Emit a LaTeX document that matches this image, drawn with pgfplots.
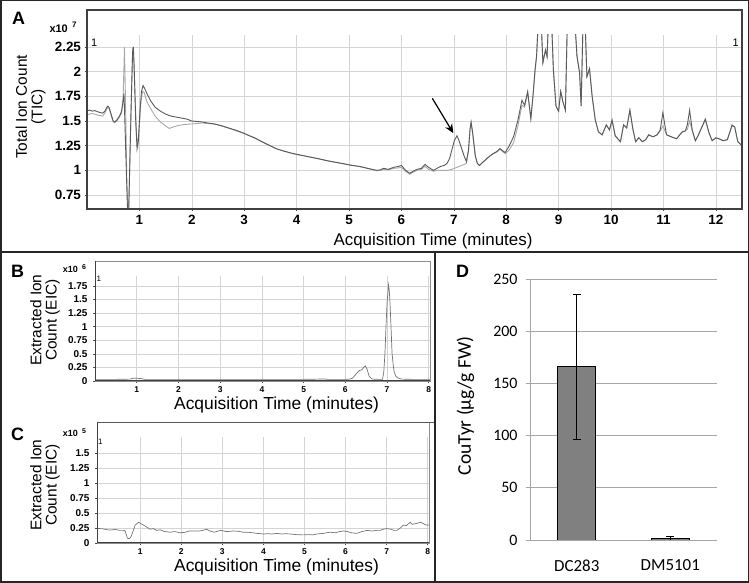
\documentclass[border=0pt]{standalone}
\usepackage{fontspec}
\setmainfont{Liberation Sans}
\newfontfamily\carlito{Carlito}
\usepackage{pgfplots}
\pgfplotsset{compat=1.18}
\usetikzlibrary{arrows.meta}

\definecolor{gridc}{HTML}{D4D4D4}
\definecolor{traceD}{HTML}{5A5A5A}
\definecolor{traceL}{HTML}{A8A8A8}
\definecolor{barc}{HTML}{808080}
\definecolor{xlgrid}{HTML}{A6A6A6}

\newcommand\fs[1]{\fontsize{#1}{#1}\selectfont}

\pgfplotsset{
  chrom/.style={anchor=south west, scale only axis,
    axis line style={draw=none},
    grid=major, major grid style={gridc, line width=0.6bp},
    tick align=outside, major tick length=2.5bp,
    tick style={black!70, line width=0.6bp},
    xtick pos=left, ytick pos=left,
    scaled ticks=false,
    /pgf/number format/assume math mode=true,
    clip=true},
}

\begin{document}
\begin{tikzpicture}[x=1bp,y=1bp]
\path[use as bounding box] (0,0) rectangle (749,583);

% ---------------- panel A ----------------
\begin{axis}[chrom, at={(87bp,374bp)}, width=655bp, height=174bp,
  xmin=0, xmax=12.5, ymin=0.608, ymax=2.372,
  xtick={1,2,3,4,5,6,7,8,9,10,11,12},
  ytick={0.75,1,1.25,1.5,1.75,2,2.25},
  ticklabel style={font=\bfseries\fs{13.5}},
]
\addplot[traceL, line width=0.9bp] coordinates {
(0,1.565) (0.05,1.57) (0.1,1.575) (0.15,1.57) (0.2,1.56) (0.25,1.555) (0.3,1.55)
(0.34,1.58) (0.39,1.635) (0.42,1.63) (0.46,1.56) (0.5,1.49) (0.53,1.485) (0.57,1.50)
(0.62,1.54) (0.66,1.58) (0.69,1.75) (0.715,2.25) (0.735,1.7) (0.76,0.9) (0.785,0.55)
(0.80,0.7) (0.83,1.4) (0.86,2.0) (0.875,2.25) (0.895,2.1) (0.92,1.7) (0.945,1.35)
(0.97,1.25) (1.0,1.45) (1.03,1.70) (1.06,1.80) (1.09,1.79) (1.14,1.70) (1.22,1.62)
(1.3,1.55) (1.4,1.49) (1.5,1.45) (1.57,1.425) (1.65,1.44) (1.75,1.455) (1.86,1.465)
(2.0,1.47) (2.1,1.475) (2.2,1.48) (2.3,1.475) (2.43,1.47) (2.55,1.452) (2.7,1.428)
(2.85,1.40) (2.975,1.378) (3.1,1.352) (3.2,1.325) (3.3,1.302) (3.45,1.262) (3.61,1.218)
(3.75,1.198) (3.9,1.172) (4.0,1.16) (4.2,1.142) (4.4,1.118) (4.6,1.097) (4.89,1.065)
(5.05,1.052) (5.2,1.038) (5.35,1.022) (5.53,0.995) (5.6,1.0) (5.66,1.01) (5.75,1.005)
(5.85,1.02) (5.95,1.025) (6.0,1.03) (6.08,0.99) (6.16,0.96) (6.22,0.98) (6.3,1.0)
(6.38,1.01) (6.45,1.04) (6.52,1.01) (6.61,0.99) (6.68,1.0) (6.75,1.0) (6.82,1.0)
(6.87,1.0) (6.96,1.01) (7.06,1.03) (7.15,1.05) (7.2,1.06) (7.24,1.07) (7.28,1.2)
(7.31,1.42) (7.33,1.48) (7.36,1.37) (7.41,1.14) (7.45,1.07) (7.49,1.05) (7.55,1.08)
(7.63,1.115) (7.7,1.15) (7.75,1.165) (7.82,1.185) (7.88,1.215) (7.93,1.19) (7.98,1.17)
(8.05,1.2) (8.14,1.28) (8.22,1.44) (8.30,1.66) (8.35,1.64) (8.41,1.78) (8.47,1.53)
(8.51,1.74) (8.55,2.0) (8.58,2.16) (8.62,2.6) (8.66,2.6) (8.70,2.09) (8.75,2.22)
(8.78,2.15) (8.81,2.6) (8.86,2.6) (8.90,2.02) (8.95,1.65) (9.0,1.60) (9.04,1.80)
(9.08,1.70) (9.13,1.61) (9.17,2.6) (9.30,2.6) (9.35,2.16) (9.40,1.99) (9.43,1.65)
(9.47,2.6) (9.50,2.6) (9.54,1.95) (9.59,2.03) (9.64,1.75) (9.70,1.51) (9.76,1.39)
(9.83,1.36) (9.91,1.46) (9.97,1.41) (10.02,1.51) (10.08,1.35) (10.18,1.29) (10.24,1.46)
(10.3,1.43) (10.36,1.61) (10.42,1.41) (10.47,1.29) (10.53,1.33) (10.6,1.29) (10.66,1.31)
(10.72,1.36) (10.8,1.34) (10.88,1.36) (10.94,1.40) (10.99,1.45) (11.03,1.40) (11.06,1.36)
(11.15,1.34) (11.25,1.32) (11.36,1.39) (11.42,1.40) (11.46,1.42) (11.50,1.50) (11.55,1.40)
(11.61,1.30) (11.66,1.35) (11.71,1.41) (11.80,1.51) (11.87,1.38) (11.93,1.30) (12.0,1.33)
(12.06,1.32) (12.14,1.30) (12.22,1.31) (12.31,1.45) (12.36,1.44) (12.42,1.29) (12.5,1.25)
};
\addplot[traceD, line width=0.9bp] coordinates {
(0,1.605) (0.05,1.61) (0.1,1.60) (0.15,1.605) (0.2,1.595) (0.25,1.585) (0.3,1.58)
(0.34,1.60) (0.39,1.65) (0.42,1.64) (0.46,1.57) (0.5,1.50) (0.53,1.49) (0.57,1.51)
(0.62,1.55) (0.66,1.60) (0.69,1.70) (0.705,1.78) (0.72,1.55) (0.75,1.0) (0.77,0.65)
(0.79,0.45) (0.81,0.9) (0.84,1.6) (0.87,2.2) (0.885,2.25) (0.90,2.05) (0.93,1.5)
(0.955,1.22) (0.98,1.30) (1.01,1.6) (1.04,1.80) (1.07,1.86) (1.10,1.83) (1.15,1.77)
(1.22,1.70) (1.3,1.64) (1.4,1.60) (1.5,1.57) (1.6,1.55) (1.7,1.54) (1.8,1.53)
(1.9,1.52) (2.0,1.50) (2.1,1.495) (2.2,1.49) (2.3,1.48) (2.43,1.47) (2.55,1.455)
(2.7,1.43) (2.85,1.405) (2.975,1.38) (3.1,1.35) (3.2,1.33) (3.3,1.30) (3.45,1.26)
(3.61,1.22) (3.75,1.195) (3.9,1.175) (4.0,1.163) (4.2,1.14) (4.4,1.12) (4.6,1.095)
(4.89,1.068) (5.05,1.05) (5.2,1.04) (5.35,1.02) (5.53,1.0) (5.6,1.005) (5.66,1.02)
(5.75,1.01) (5.85,1.03) (5.95,1.04) (6.0,1.05) (6.08,1.0) (6.16,0.97) (6.22,0.99)
(6.3,1.01) (6.38,1.02) (6.45,1.06) (6.52,1.03) (6.61,1.0) (6.68,1.02) (6.75,1.04)
(6.82,1.05) (6.87,1.07) (6.92,1.12) (6.96,1.20) (7.01,1.30) (7.06,1.35) (7.1,1.30)
(7.15,1.22) (7.2,1.14) (7.24,1.09) (7.28,1.2) (7.31,1.42) (7.33,1.49) (7.36,1.38)
(7.41,1.15) (7.45,1.07) (7.49,1.05) (7.55,1.08) (7.63,1.12) (7.7,1.15) (7.75,1.17)
(7.82,1.19) (7.88,1.22) (7.93,1.20) (7.98,1.18) (8.05,1.24) (8.14,1.34) (8.22,1.50)
(8.30,1.71) (8.35,1.66) (8.41,1.80) (8.47,1.52) (8.51,1.75) (8.55,2.02) (8.58,2.16)
(8.62,2.6) (8.66,2.6) (8.70,2.09) (8.75,2.22) (8.78,2.15) (8.81,2.6) (8.86,2.6)
(8.90,2.02) (8.95,1.65) (9.0,1.60) (9.04,1.80) (9.08,1.70) (9.13,1.61) (9.17,2.6)
(9.30,2.6) (9.35,2.16) (9.40,1.99) (9.43,1.65) (9.47,2.6) (9.50,2.6) (9.54,1.95)
(9.59,2.03) (9.64,1.75) (9.70,1.51) (9.76,1.39) (9.83,1.36) (9.91,1.46) (9.97,1.41)
(10.02,1.51) (10.08,1.35) (10.18,1.29) (10.24,1.46) (10.3,1.43) (10.36,1.61) (10.42,1.41)
(10.47,1.29) (10.53,1.33) (10.6,1.29) (10.66,1.31) (10.72,1.36) (10.8,1.34) (10.88,1.36)
(10.94,1.41) (10.99,1.585) (11.03,1.45) (11.06,1.36) (11.15,1.34) (11.25,1.32) (11.36,1.39)
(11.42,1.40) (11.46,1.47) (11.50,1.61) (11.55,1.41) (11.61,1.30) (11.66,1.35) (11.71,1.41)
(11.80,1.52) (11.87,1.38) (11.93,1.30) (12.0,1.33) (12.06,1.32) (12.14,1.30) (12.22,1.31)
(12.31,1.46) (12.36,1.44) (12.42,1.29) (12.5,1.25)
};
\draw[-{Stealth[length=9bp,width=8bp]}, line width=1.2bp] (axis cs:6.59,1.73) -- (axis cs:6.99,1.377);
\end{axis}
\draw[black!75, line width=1.1bp] (87,374) rectangle (742,573);
\node[font=\bfseries\fs{18}] at (18.5,564.5) {A};
\node[anchor=base east, font=\bfseries\fs{11}, inner sep=0pt] at (68,550) {x10};
\node[anchor=base west, font=\bfseries\fs{8}, inner sep=0pt] at (72,555) {7};
\node[anchor=base west, font=\fs{11}, inner sep=0pt] at (91,536) {1};
\node[anchor=base east, font=\fs{11}, inner sep=0pt] at (739,536) {1};
\node[rotate=90, align=center, font=\fs{15.5}, text depth=0pt] at (29,476)
  {\fontsize{15.5}{17.5}\selectfont Total Ion Count\\(TIC)};
\node[anchor=base, font=\fs{17}, inner sep=0pt] at (433,337) {Acquisition Time (minutes)};

% ---------------- panel B ----------------
\begin{axis}[chrom, at={(95bp,202bp)}, width=335bp, height=105bp,
  xmin=0, xmax=8.03, ymin=0, ymax=1.934,
  xtick={1,2,3,4,5,6,7,8},
  ytick={0,0.25,0.5,0.75,1,1.25,1.5,1.75},
  major tick length=2bp,
  xticklabel style={font=\bfseries\fs{8.5}},
  yticklabel style={font=\bfseries\fs{10}, xshift=-2bp},
]
\addplot[black!55, line width=0.7bp] coordinates {
(0,0.03) (0.5,0.03) (0.85,0.035) (0.9,0.05) (1.0,0.05) (1.1,0.045) (1.2,0.03)
(2,0.03) (3,0.03) (4,0.03) (5,0.03) (5.5,0.037) (5.6,0.03) (6.0,0.03) (6.1,0.035)
(6.17,0.05) (6.25,0.12) (6.33,0.19) (6.40,0.21) (6.44,0.25) (6.48,0.28) (6.52,0.22)
(6.57,0.09) (6.62,0.05) (6.65,0.035) (6.8,0.03) (6.89,0.03) (6.92,0.15) (6.95,0.51)
(6.98,1.1) (7.0,1.43) (7.035,1.77) (7.055,1.65) (7.075,1.37) (7.1,0.9) (7.12,0.51)
(7.15,0.28) (7.17,0.17) (7.21,0.09) (7.25,0.06) (7.35,0.035) (7.6,0.03) (8.03,0.03)
};
\end{axis}
\draw[black!45, line width=0.6bp] (95,202) rectangle (430,322);
\draw[black!75, line width=1bp] (95,322) -- (95,202) -- (430,202);
\node[font=\bfseries\fs{18}] at (17.5,312) {B};
\node[anchor=base east, font=\bfseries\fs{9}, inner sep=0pt] at (78,310) {x10};
\node[anchor=base west, font=\bfseries\fs{7}, inner sep=0pt] at (82,313) {6};
\node[anchor=base west, font=\fs{8}, inner sep=0pt] at (96.5,301) {1};
\node[rotate=90, align=center, font=\fs{15.5}] at (45,263)
  {\fontsize{15.5}{18.5}\selectfont Extracted Ion\\Count (EIC)};
\node[anchor=base, font=\fs{17.5}, inner sep=0pt] at (276.5,173) {Acquisition Time (minutes)};

% ---------------- panel C ----------------
\begin{axis}[chrom, at={(97bp,40bp)}, width=332bp, height=106bp,
  xmin=-0.05, xmax=8.03, ymin=0, ymax=1.767,
  xtick={1,2,3,4,5,6,7,8},
  ytick={0,0.25,0.5,0.75,1,1.25,1.5},
  major tick length=2bp,
  xticklabel style={font=\bfseries\fs{8.5}},
  yticklabel style={font=\bfseries\fs{10}, xshift=-2bp},
]
\addplot[black!55, line width=0.7bp] coordinates {
(-0.05,0.245) (0.1,0.235) (0.2,0.22) (0.28,0.217) (0.4,0.225) (0.5,0.21) (0.6,0.21)
(0.635,0.2) (0.69,0.08) (0.74,0.07) (0.78,0.11) (0.83,0.2) (0.88,0.30) (0.96,0.345)
(1.02,0.32) (1.08,0.30) (1.15,0.27) (1.24,0.23) (1.32,0.24) (1.4,0.21) (1.49,0.22)
(1.6,0.19) (1.73,0.18) (1.85,0.19) (1.97,0.17) (2.1,0.18) (2.2,0.2) (2.3,0.2)
(2.45,0.2) (2.55,0.215) (2.62,0.23) (2.7,0.2) (2.8,0.18) (2.9,0.2) (2.96,0.21)
(3.1,0.19) (3.27,0.2) (3.4,0.195) (3.5,0.18) (3.6,0.18) (3.75,0.17) (3.85,0.16)
(4.0,0.15) (4.1,0.155) (4.2,0.15) (4.33,0.16) (4.45,0.15) (4.55,0.155) (4.65,0.15)
(4.8,0.14) (4.97,0.135) (5.1,0.14) (5.2,0.135) (5.3,0.15) (5.45,0.16) (5.62,0.18)
(5.75,0.17) (5.85,0.19) (5.95,0.2) (6.05,0.19) (6.15,0.17) (6.27,0.16) (6.4,0.19)
(6.52,0.21) (6.65,0.2) (6.75,0.21) (6.84,0.21) (6.92,0.23) (7.0,0.24) (7.1,0.23)
(7.18,0.21) (7.25,0.21) (7.33,0.25) (7.41,0.30) (7.48,0.29) (7.57,0.345) (7.62,0.31)
(7.68,0.32) (7.75,0.33) (7.83,0.345) (7.9,0.32) (7.95,0.30) (8.03,0.30)
};
\end{axis}
\draw[black!45, line width=0.6bp] (97,40) rectangle (429,161);
\draw[black!65, line width=0.8bp] (97,161) -- (435,161);
\draw[black!75, line width=1bp] (97,161) -- (97,40) -- (429,40);
\node[font=\bfseries\fs{18}] at (17.5,149) {C};
\node[anchor=base east, font=\bfseries\fs{9}, inner sep=0pt] at (78,146) {x10};
\node[anchor=base west, font=\bfseries\fs{7}, inner sep=0pt] at (82,149) {5};
\node[anchor=base west, font=\fs{8}, inner sep=0pt] at (98,138) {1};
\node[rotate=90, align=center, font=\fs{15.5}] at (45,98)
  {\fontsize{15.5}{18.5}\selectfont Extracted Ion\\Count (EIC)};
\node[anchor=base, font=\fs{17.5}, inner sep=0pt] at (276.5,11) {Acquisition Time (minutes)};

% ---------------- panel D ----------------
\begin{axis}[at={(530bp,43bp)}, anchor=south west, scale only axis,
  width=187bp, height=261bp,
  xmin=-0.5, xmax=1.5, ymin=0, ymax=250,
  ytick={0,50,100,150,200,250},
  xtick={0,1}, xticklabels={DC283,DM5101},
  axis x line*=bottom, axis y line*=left,
  axis line style={xlgrid, line width=0.8bp},
  ymajorgrids, major grid style={xlgrid, line width=0.8bp},
  major x tick style={draw=none},
  tick align=outside, major tick length=4bp,
  ytick style={xlgrid, line width=0.8bp},
  extra x ticks={-0.5,0.5,1.5}, extra x tick labels={},
  extra x tick style={major tick length=6bp, tick style={xlgrid, line width=0.8bp}, grid=none},
  yticklabel style={font=\carlito\fs{16}, xshift=-5bp},
  xticklabel style={font=\carlito\fs{17}, yshift=-12bp},
  /pgf/number format/assume math mode=true,
  ybar, bar width=38bp,
]
\addplot[draw=black, line width=0.8bp, fill=barc,
  error bars/.cd, y dir=both, y explicit,
  error bar style={black, line width=0.8bp},
  error mark options={rotate=90, mark size=4bp, black, line width=0.8bp}]
  coordinates {(0,166) +- (0,69.5) (1,1.5) +- (0,1.5)};
\end{axis}
\node[font=\bfseries\fs{18}] at (462.5,312) {D};
\node[rotate=90, font=\carlito\fs{19.5}] at (465.5,177) {CouTyr (µg/g FW)};

% ---------------- frames ----------------
\draw[black!85, line width=1.3bp] (0,331) -- (749,331);
\draw[black!85, line width=1.3bp] (435,0) -- (435,331);
\draw[black!85, line width=1.5bp] (0.75,0.75) rectangle (748.25,582.25);
\end{tikzpicture}
\end{document}
